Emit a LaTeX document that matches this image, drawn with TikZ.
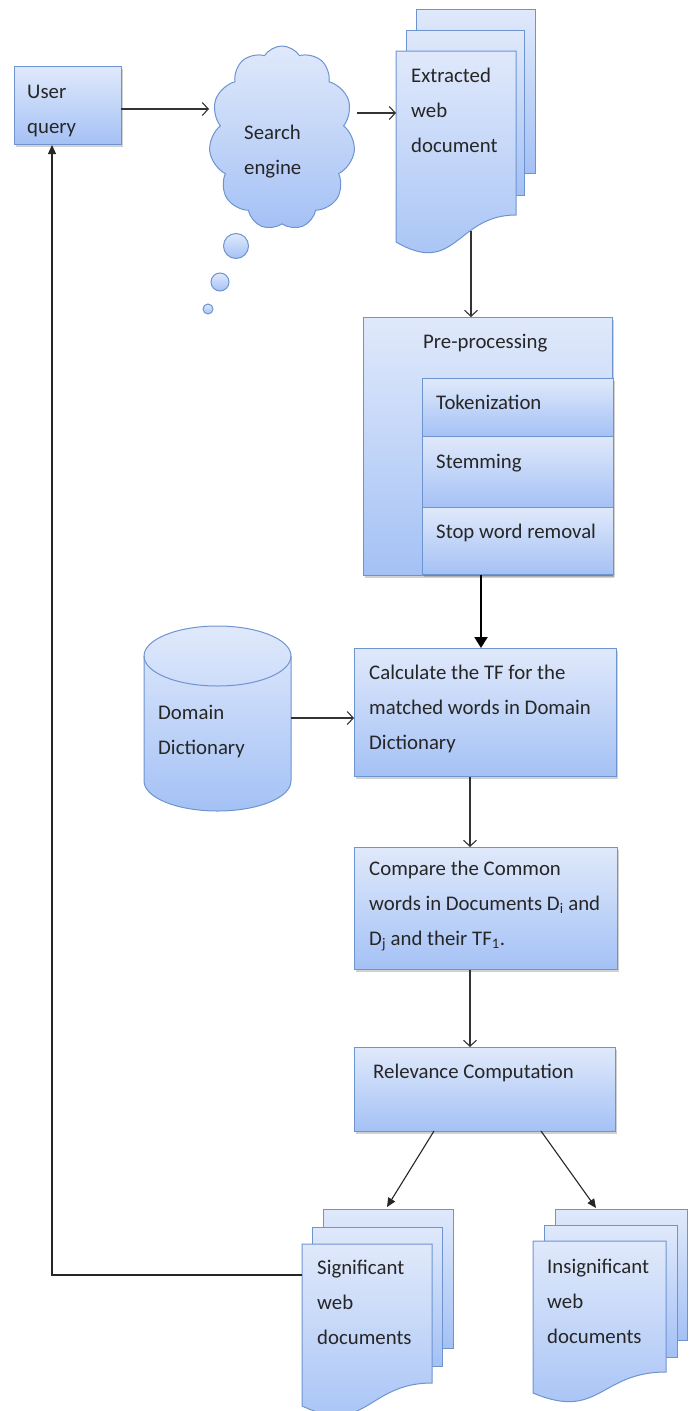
\documentclass[tikz,border=0pt]{standalone}
\usepackage{fontspec}
\setmainfont{Carlito}
\usetikzlibrary{shapes.symbols,arrows.meta,shadows,calc}
\definecolor{ctop}{RGB}{224,233,251}
\definecolor{cbot}{RGB}{164,193,245}
\definecolor{cline}{RGB}{110,148,208}
\begin{document}
\begin{tikzpicture}[x=1pt,y=-1pt,
  every node/.style={font=\fontsize{20.8}{35}\selectfont},
  boxshadow/.style={drop shadow={shadow xshift=1.5pt,shadow yshift=-2pt,opacity=0.3,fill=black!60}},
  box/.style={draw=cline,line width=1pt,top color=ctop,bottom color=cbot,inner sep=0pt,anchor=north west,boxshadow},
  page/.style={draw=cline,line width=1pt,top color=ctop,bottom color=cbot},
  hold/.style={inner sep=0pt,anchor=north west},
  lbl/.style={anchor=base west,inner sep=0pt,align=left,text=black!85},
  arr/.style={draw=black!80,line width=1.1pt,-{Straight Barb[length=6pt,width=13pt,line width=1.1pt]}},
  farr/.style={draw=black!85,line width=1.1pt,-{Triangle[length=9pt,width=8pt]}},
  thickarr/.style={draw=black,line width=2.2pt,-{Triangle[length=11pt,width=13pt]}}
]
\useasboundingbox (0,0) rectangle (694,1411);
\clip (0,0) rectangle (694,1411);

% ---------- User query ----------
\node[box,minimum width=107pt,minimum height=78pt] (uq) at (14,66) {};
\node[lbl] (uqt) at (27,133) {User\\query};

% ---------- Search engine cloud ----------
\node[cloud,cloud puffs=11,cloud puff arc=115,cloud ignores aspect,
      minimum width=146pt,minimum height=184pt,inner sep=0pt,
      draw=cline,line width=1pt,top color=ctop,bottom color=cbot] (cloud) at (282,138) {};
\node[lbl] (cloudt) at (244,174) {Search\\engine};
\draw[page] (236,246) circle[radius=12.5pt];
\draw[page] (220,282) circle[radius=9pt];
\draw[page] (208,309) circle[radius=5pt];

% ---------- Extracted web document (stack) ----------
\draw[page] (416,9) rectangle (535,173);
\draw[page] (406,30) rectangle (524,195);
\draw[page] (396,51) -- (516,51) -- (516,215)
   .. controls (456,215) and (456,277) .. (396,242) -- cycle;
\node[hold,minimum width=120pt,minimum height=191pt] (extr) at (396,51) {};
\node[lbl] (extrt) at (411,152) {Extracted\\web\\document};

% ---------- Pre-processing ----------
\node[box,minimum width=249pt,minimum height=258pt] (pre) at (363,317) {};
\node[lbl] (pret) at (423,348) {Pre-processing};
\node[box,minimum width=191pt,minimum height=58pt] (tok) at (422,378) {};
\node[lbl] (tokt) at (436,409) {Tokenization};
\node[box,minimum width=191pt,minimum height=71pt] (stem) at (422,436) {};
\node[lbl] (stemt) at (436,468) {Stemming};
\node[box,minimum width=191pt,minimum height=67pt] (stop) at (422,507) {};
\node[lbl] (stopt) at (436,538) {Stop word removal};

% ---------- Domain Dictionary (cylinder) ----------
\draw[page] (144,656) -- (144,781)
   arc[start angle=180,end angle=360,x radius=73.5pt,y radius=30pt]
   -- (291,656)
   arc[start angle=0,end angle=180,x radius=73.5pt,y radius=30pt] -- cycle;
\draw[draw=cline,line width=1pt] (144,656)
   arc[start angle=180,end angle=360,x radius=73.5pt,y radius=30pt];
\node[hold,minimum width=147pt,minimum height=185pt] (dd) at (144,626) {};
\node[lbl] (ddt) at (158,754) {Domain\\Dictionary};

% ---------- Calculate ----------
\node[box,minimum width=262pt,minimum height=128pt] (calc) at (354,648) {};
\node[lbl] (calct) at (369,749) {Calculate the TF for the\\matched words in Domain\\Dictionary};

% ---------- Compare ----------
\node[box,minimum width=263pt,minimum height=122pt] (comp) at (354,847) {};
\node[lbl] (compt) at (369,945) {Compare the Common\\words in Documents D\textsubscript{i} and\\D\textsubscript{j} and their TF\textsubscript{1}.};

% ---------- Relevance ----------
\node[box,minimum width=261pt,minimum height=84pt] (rel) at (354,1047) {};
\node[lbl] (relt) at (373,1078) {Relevance Computation};

% ---------- Significant web documents ----------
\draw[page] (323,1209) rectangle (453,1348);
\draw[page] (312,1227) rectangle (442,1366);
\draw[page] (302,1244) -- (432,1244) -- (432,1383)
   .. controls (367,1383) and (367,1436) .. (302,1406) -- cycle;
\node[hold,minimum width=130pt,minimum height=162pt] (sig) at (302,1244) {};
\node[lbl] (sigt) at (317,1344) {Significant\\web\\documents};

% ---------- Insignificant web documents ----------
\draw[page] (555,1209) rectangle (687,1340);
\draw[page] (544,1225) rectangle (677,1357);
\draw[page] (533,1241) -- (666,1241) -- (666,1372)
   .. controls (599.5,1372) and (599.5,1421) .. (533,1393) -- cycle;
\node[hold,minimum width=133pt,minimum height=152pt] (insig) at (533,1241) {};
\node[lbl] (insigt) at (547,1343) {Insignificant\\web\\documents};

% ---------- Connector end points ----------
\coordinate (a1s) at (121,109);
\coordinate (a1e) at (209,109);
\coordinate (a2s) at (357,113);
\coordinate (a2e) at (396,113);
\coordinate (a3s) at (471,231);
\coordinate (a4s) at (481,575);
\coordinate (a5s) at (291,718);
\coordinate (r1s) at (434,1131);
\coordinate (r1e) at (387,1207);
\coordinate (r2s) at (541,1131);
\coordinate (r2e) at (596,1208);
\coordinate (fbs) at (302,1275);
\coordinate (fbc) at (52,1275);

% ---------- Connectors ----------
\draw[arr] (a1s) -- (a1e);
\draw[arr] (a2s) -- (a2e);
\draw[arr] (a3s) -- (a3s |- pre.north);
\draw[thickarr] (a4s) -- (a4s |- calc.north);
\draw[arr] (a5s) -- (a5s -| calc.west);
\draw[arr] (calc.south -| 470,0) -- (comp.north -| 470,0);
\draw[arr] (comp.south -| 470,0) -- (rel.north -| 470,0);
\draw[farr] (r1s) -- (r1e);
\draw[farr] (r2s) -- (r2e);
\draw[farr] (fbs) -- (fbc) -- (fbc |- uq.south);
\end{tikzpicture}
\end{document}
